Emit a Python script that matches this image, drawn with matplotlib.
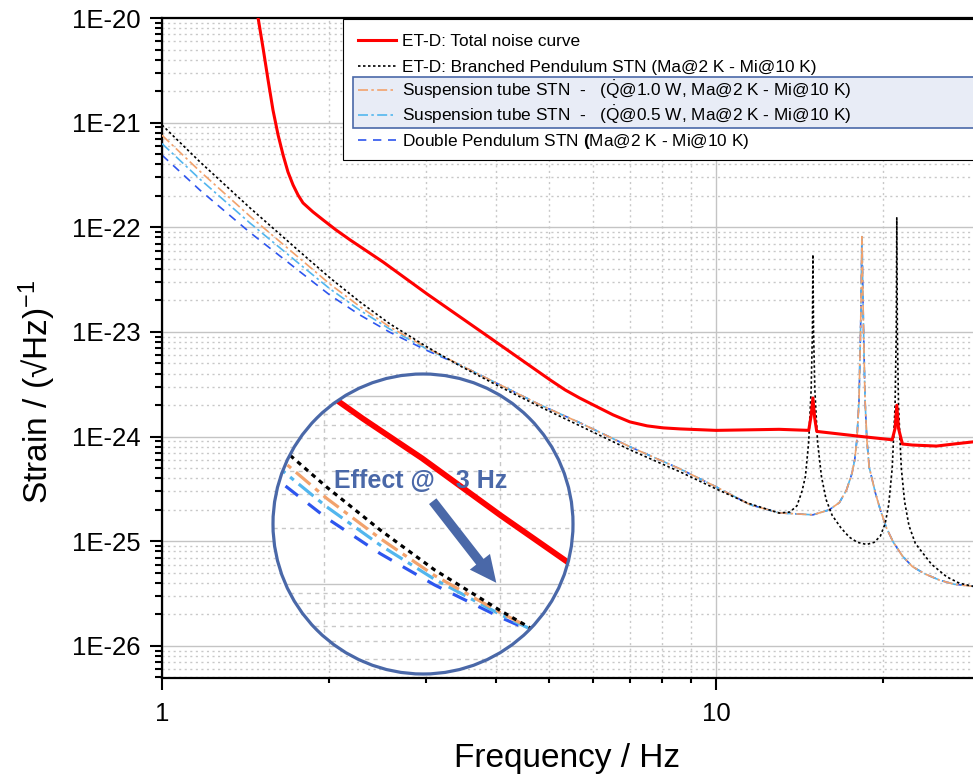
import numpy as np
import matplotlib.pyplot as plt
from matplotlib.axes import Axes
from matplotlib.patches import Circle, Rectangle
from matplotlib.lines import Line2D
from matplotlib.ticker import LogLocator, FuncFormatter, NullFormatter

plt.rcParams['font.family'] = ['Liberation Sans', 'DejaVu Sans']
plt.rcParams['mathtext.fontset'] = 'custom'
plt.rcParams['mathtext.rm'] = 'Liberation Sans'
plt.rcParams['mathtext.it'] = 'Liberation Sans:italic'
plt.rcParams['mathtext.bf'] = 'Liberation Sans:bold'

# ET-D total noise curve (frequency in Hz, log10 of strain)
f_etd = [1.45, 1.491, 1.522, 1.554, 1.586, 1.620, 1.654, 1.688, 1.724, 1.760, 1.797,
         1.873, 1.953, 2.061, 2.185, 2.506, 3.008, 3.797, 5.015, 5.34, 5.67, 6.10,
         6.52, 6.99, 7.51, 8.02, 8.61, 10.0, 13.0, 14.7, 14.85, 14.96, 15.07, 15.2,
         18.4, 20.8, 21.05, 21.2, 21.35, 21.7, 22.6, 25.0, 26.9, 29.1]
log_etd = [-19.70, -20.00, -20.287, -20.592, -20.879, -21.117, -21.308, -21.471,
           -21.595, -21.691, -21.767, -21.853, -21.929, -22.025, -22.120, -22.331,
           -22.636, -23.009, -23.457, -23.553, -23.63, -23.715, -23.792, -23.859,
           -23.897, -23.916, -23.926, -23.94, -23.93, -23.94, -23.80, -23.63, -23.82,
           -23.95, -24.00, -24.03, -23.92, -23.70, -23.92, -24.07, -24.08, -24.09,
           -24.07, -24.05]

# ET-D branched pendulum STN
f_bp = [1.0, 1.171, 1.442, 1.775, 2.010, 2.277, 2.579, 3.008, 3.451, 4.075, 4.813,
        5.683, 6.995, 8.61, 10.0, 11.37, 13.0, 13.6, 14.0, 14.3, 14.5, 14.7, 14.85,
        14.93, 14.96, 15.0, 15.08, 15.25, 15.5, 15.8, 16.2, 16.8, 17.4, 18.0, 18.7,
        19.3, 19.8, 20.2, 20.5, 20.8, 21.05, 21.15, 21.2, 21.25, 21.35, 21.6, 21.9,
        22.3, 22.9, 23.6, 24.5, 26.1, 27.5, 29.1]
log_bp = [-21.022, -21.375, -21.815, -22.235, -22.483, -22.713, -22.923, -23.142,
          -23.324, -23.524, -23.715, -23.897, -24.126, -24.336, -24.499, -24.632,
          -24.73, -24.72, -24.66, -24.52, -24.38, -24.05, -23.55, -23.0, -22.26,
          -23.0, -23.55, -24.05, -24.38, -24.60, -24.75, -24.87, -24.96, -25.01,
          -25.03, -25.01, -24.95, -24.83, -24.65, -24.30, -23.70, -23.0, -21.91,
          -23.0, -23.70, -24.30, -24.62, -24.85, -25.02, -25.11, -25.22, -25.34,
          -25.40, -25.43]

# low frequency part, where the three models differ
f_lo = [1.0, 1.171, 1.442, 1.775, 2.010, 2.277, 2.579, 3.008]
log_st10_lo = [-21.12, -21.465, -21.895, -22.30, -22.543, -22.758, -22.953, -23.152]
log_st05_lo = [-21.20, -21.54, -21.96, -22.355, -22.588, -22.793, -22.973, -23.162]
log_dp_lo = [-21.31, -21.645, -22.05, -22.425, -22.648, -22.838, -23.003, -23.177]

# high frequency part, same for suspension tube and double pendulum
f_hi = [3.451, 4.075, 4.813, 5.683, 6.995, 8.61, 10.0, 11.53, 13.0, 14.96, 16.0, 16.7,
        17.2, 17.6, 17.8, 17.96, 18.12, 18.25, 18.34, 18.45, 18.58, 18.72, 18.9, 19.4,
        19.8, 20.3, 20.9, 21.7, 22.6, 23.8, 25.3, 26.9, 29.1]
log_hi = [-23.315, -23.505, -23.696, -23.868, -24.097, -24.308, -24.479, -24.651,
          -24.728, -24.747, -24.70, -24.63, -24.51, -24.35, -24.22, -24.03, -23.65,
          -22.90, -22.09, -22.90, -23.65, -24.03, -24.29, -24.54, -24.70, -24.87,
          -25.01, -25.14, -25.24, -25.31, -25.37, -25.41, -25.43]

labels = ["ET-D: Total noise curve",
          "ET-D: Branched Pendulum STN (Ma@2 K - Mi@10 K)",
          r"Suspension tube STN  -   ($\dot{\mathrm{Q}}$@1.0 W, Ma@2 K - Mi@10 K)",
          r"Suspension tube STN  -   ($\dot{\mathrm{Q}}$@0.5 W, Ma@2 K - Mi@10 K)",
          r"Double Pendulum STN $\mathbf{(}$Ma@2 K - Mi@10 K)"]

red = "#ff0000"
orange = "#f2a26c"
lightblue = "#52b6ee"
blue = "#2d55ee"
ringblue = "#4a68a8"

styles = [
    dict(color=red, ls="-", lw=2.2, zorder=6),
    dict(color="black", ls=(0, (1.5, 1.5)), lw=1.2, zorder=5),
    dict(color=orange, ls=(0, (6, 2, 1.5, 2)), lw=1.2, zorder=4),
    dict(color=lightblue, ls=(0, (6, 2, 1.5, 2)), lw=1.2, zorder=3),
    dict(color=blue, ls=(0, (5, 4)), lw=1.2, zorder=2),
]

series = [
    (f_etd, log_etd),
    (f_bp, log_bp),
    (f_lo + f_hi, log_st10_lo + log_hi),
    (f_lo + f_hi, log_st05_lo + log_hi),
    (f_lo + f_hi, log_dp_lo + log_hi),
]

W, H = 973, 780
fig = plt.figure(figsize=(W / 100, H / 100), dpi=100)
ax = fig.add_axes([162 / W, 102 / H, 811 / W, 660 / H])

for (f, lg), st in zip(series, styles):
    ax.plot(f, 10.0 ** np.array(lg), **st)

ax.set_xscale("log")
ax.set_yscale("log")
ax.set_xlim(1, 29.1)
ax.set_ylim(10 ** -26.306, 1e-20)

ax.yaxis.set_major_locator(LogLocator(base=10, numticks=20))
ax.yaxis.set_minor_locator(LogLocator(base=10, subs=np.arange(2, 10), numticks=50))
ax.yaxis.set_major_formatter(FuncFormatter(lambda v, p: "1E%d" % round(np.log10(v))))
ax.yaxis.set_minor_formatter(NullFormatter())
ax.xaxis.set_minor_locator(LogLocator(base=10, subs=np.arange(2, 10), numticks=50))
ax.xaxis.set_major_formatter(FuncFormatter(lambda v, p: "%g" % v))
ax.xaxis.set_minor_formatter(NullFormatter())

ax.grid(which="major", color="#c4c4c4", lw=1.0, ls="-")
ax.grid(which="minor", color="#c8c8c8", lw=1.0, ls=(0, (1.5, 2.5)))
ax.xaxis.get_gridlines()[1].set_color("#a8a8a8")
ax.set_axisbelow(True)

for side in ["left", "bottom", "top"]:
    ax.spines[side].set_linewidth(1.6)
ax.spines["right"].set_visible(False)
ax.tick_params(axis="both", which="both", direction="out", width=1.5, labelsize=18.5)
ax.tick_params(axis="y", which="major", length=8.6, pad=7)
ax.tick_params(axis="y", which="minor", length=5)
ax.tick_params(axis="x", which="major", length=8.6, pad=9)
ax.tick_params(axis="x", which="minor", length=3.6)

ax.set_xlabel("Frequency / Hz", fontsize=24, labelpad=12)
ax.set_ylabel("Strain / (\u221aHz)$^{-1}$", fontsize=24)
ax.yaxis.set_label_coords(-0.128, 0.433)

# legend: frame, highlight box behind the two suspension tube entries, entries
fig.add_artist(Rectangle((343 / W, 1 - 160 / H), 660 / W, 141 / H, transform=fig.transFigure,
                         fc="white", ec="black", lw=0.8, zorder=1))
fig.add_artist(Rectangle((353 / W, 1 - 128 / H), 650 / W, 51 / H, transform=fig.transFigure,
                         fc="#e8ecf6", ec=ringblue, lw=1.2, zorder=2))
row_y = [40, 66, 90, 115, 140]
for y, lab, st in zip(row_y, labels, styles):
    fig.add_artist(Line2D([358 / W, 396 / W], [1 - y / H, 1 - y / H], transform=fig.transFigure,
                          color=st["color"], ls=st["ls"], lw=st["lw"], zorder=3))
    fig.text(402 / W, 1 - (y + 6) / H, lab, fontsize=12.4, va="baseline", ha="left", zorder=3)


# round inset zooming on the region around 3 Hz
class RoundAxes(Axes):
    def _gen_axes_patch(self):
        return Circle((0.5, 0.5), 0.5)


zx, zy, zr = 423, 524, 150
ins = fig.add_axes([(zx - zr) / W, 1 - (zy + zr) / H, 2 * zr / W, 2 * zr / H],
                   axes_class=RoundAxes)
for (f, lg), st in zip(series, styles):
    st2 = dict(st)
    st2["lw"] = st["lw"] * 1.9
    ins.plot(f, 10.0 ** np.array(lg), **st2)
ins.set_xscale("log")
ins.set_yscale("log")
cx, cy, hx, hy = 0.40, -22.68, 0.1504, 0.796
ins.set_xlim(10 ** (cx - hx), 10 ** (cx + hx))
ins.set_ylim(10 ** (cy - hy), 10 ** (cy + hy))
ins.yaxis.set_minor_locator(LogLocator(base=10, subs=np.arange(2, 10), numticks=50))
ins.xaxis.set_minor_locator(LogLocator(base=10, subs=np.arange(2, 10), numticks=50))
ins.grid(which="major", color="#c4c4c4", lw=1.0, ls="-")
ins.grid(which="minor", color="#c8c8c8", lw=1.0, ls=(0, (3, 3)))
ins.set_axisbelow(True)
ins.tick_params(which="both", length=0, labelbottom=False, labelleft=False)
for sp in ins.spines.values():
    sp.set_visible(False)
ins.add_patch(Circle((0.5, 0.5), 0.5, transform=ins.transAxes, fc="none", ec=ringblue,
                     lw=2.3, clip_on=False, zorder=10))

ins.text(421 / W, 1 - 481 / H, "Effect @   3 Hz", transform=fig.transFigure, ha="center",
         va="center", fontsize=18, fontweight="bold", color=ringblue, zorder=11)
ins.annotate("", xy=(498 / W, 1 - 585 / H), xytext=(431 / W, 1 - 499 / H),
             xycoords="figure fraction", textcoords="figure fraction", annotation_clip=False,
             arrowprops=dict(arrowstyle="simple,head_length=1.2,head_width=1.15,tail_width=0.42",
                             mutation_scale=16, color=ringblue, lw=0), zorder=11)

fig.savefig("out.png", dpi=100)
